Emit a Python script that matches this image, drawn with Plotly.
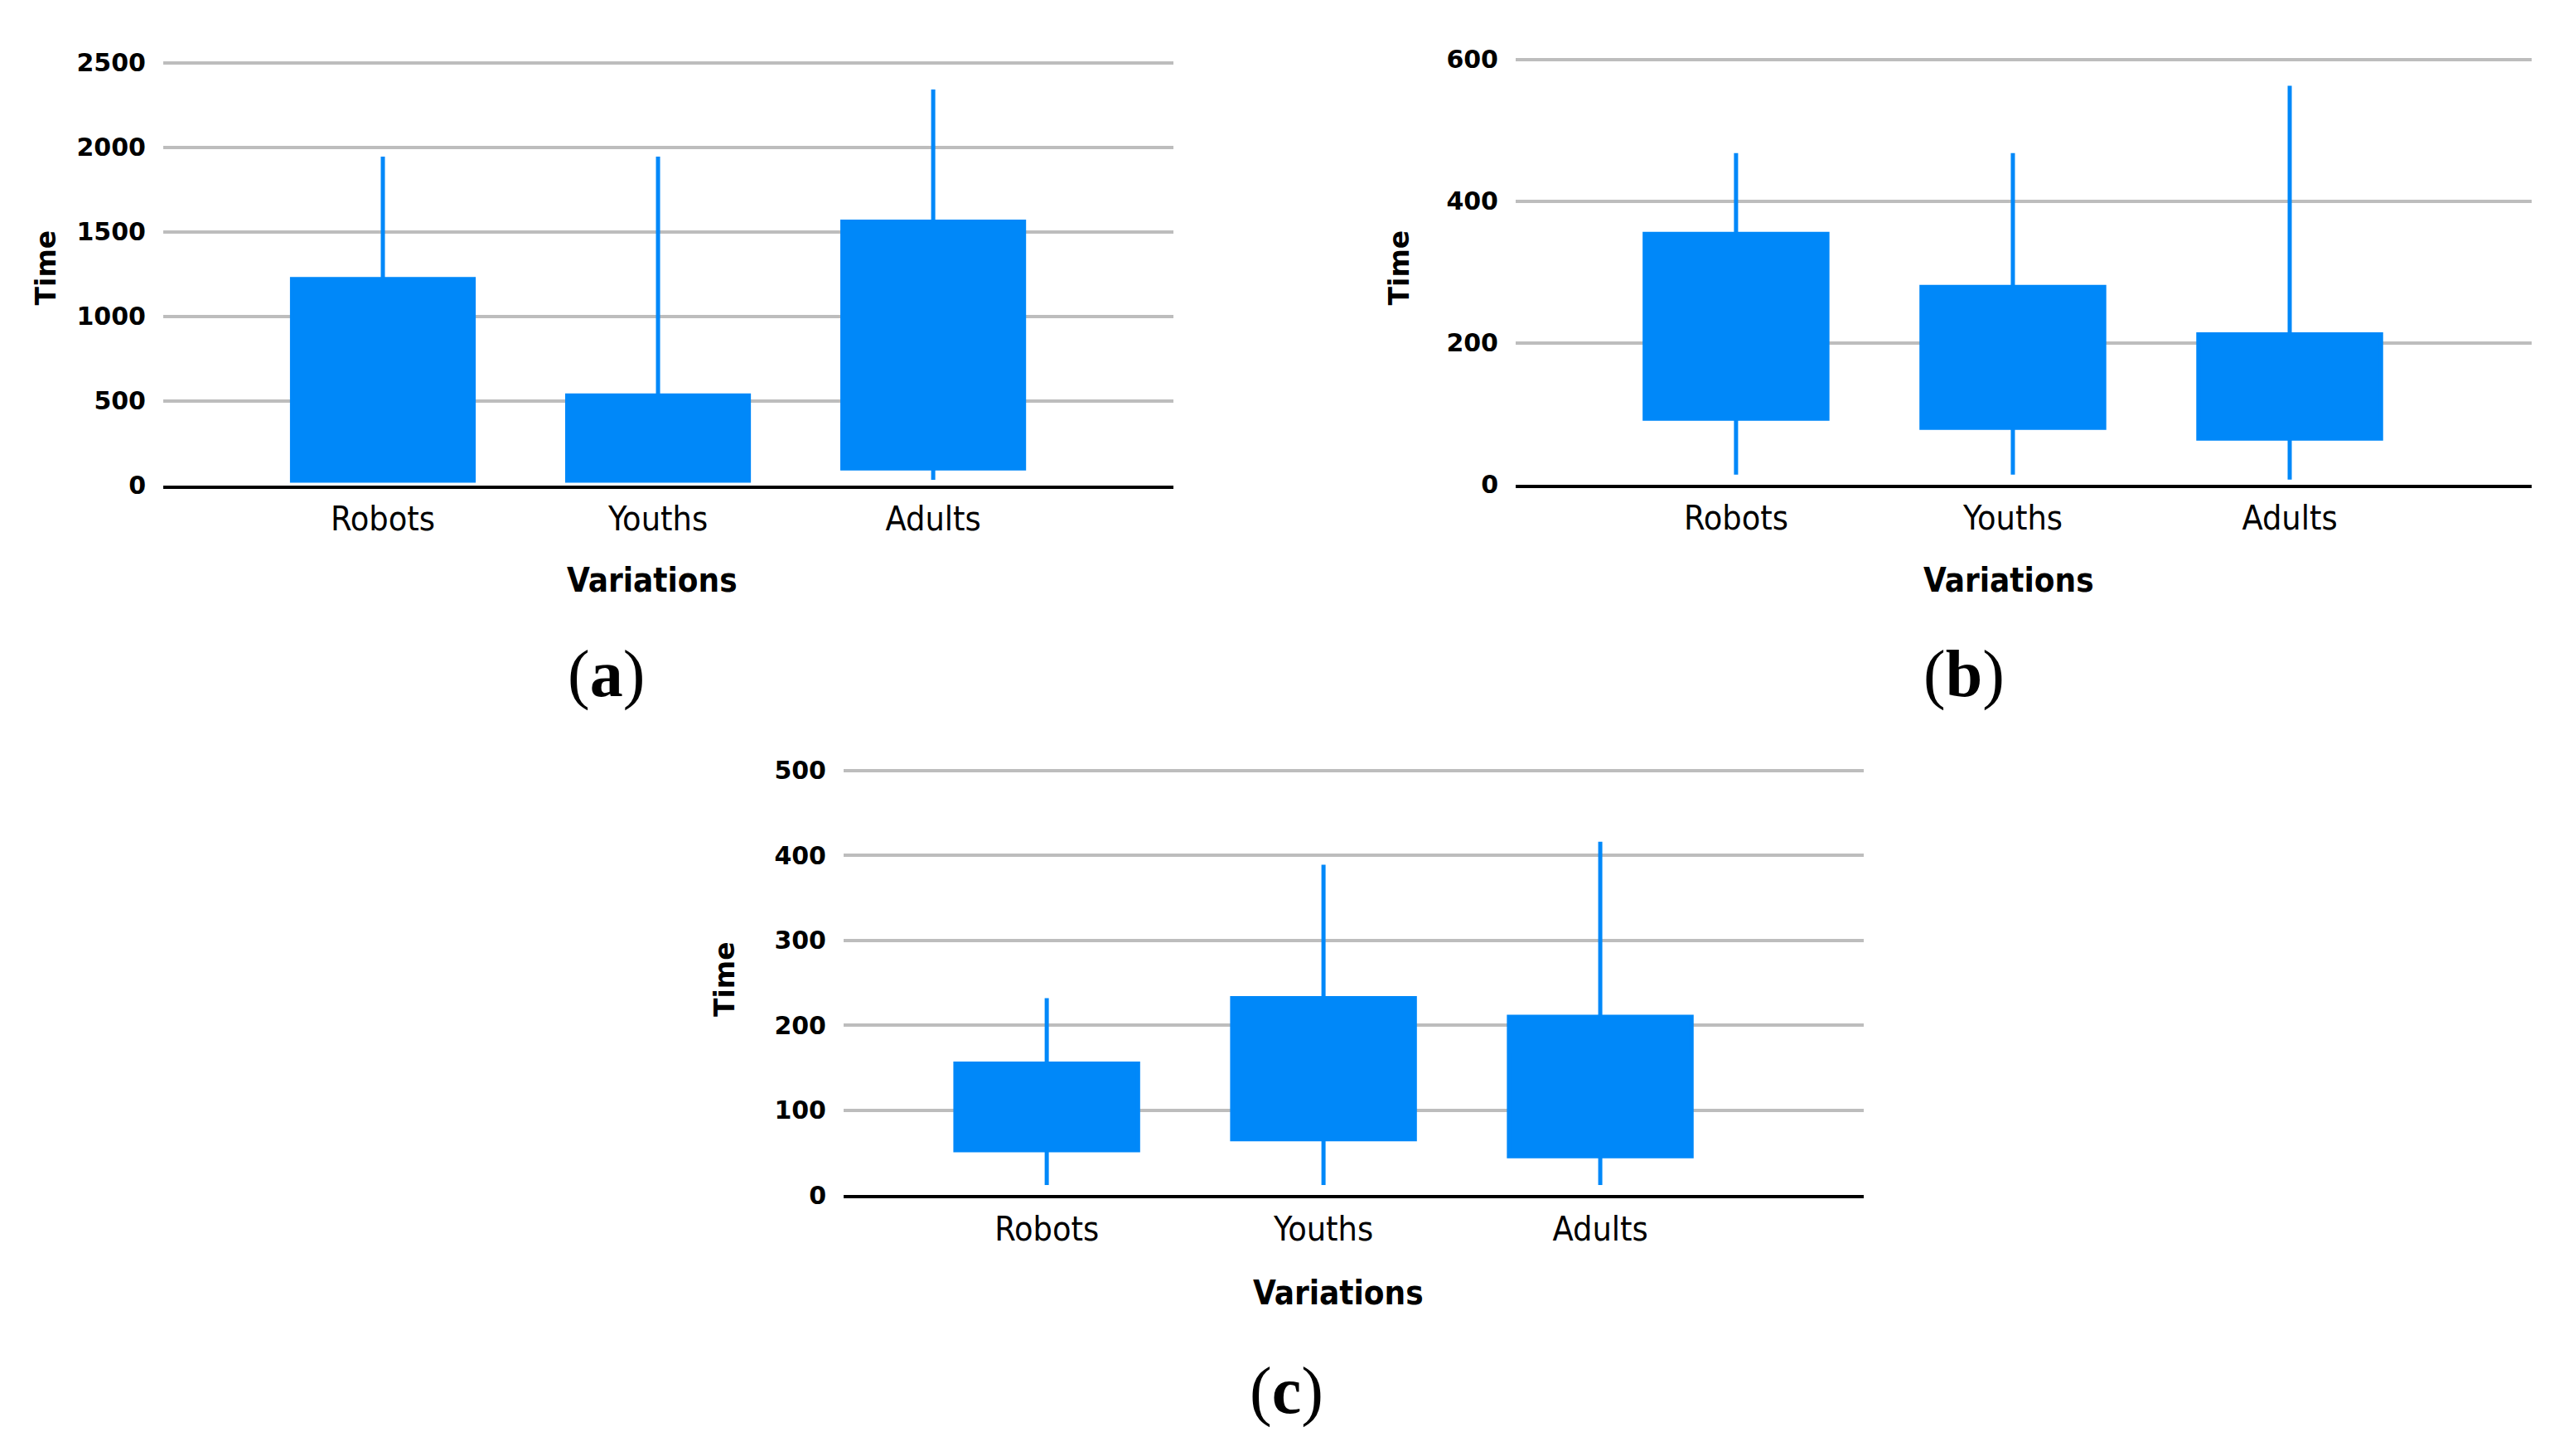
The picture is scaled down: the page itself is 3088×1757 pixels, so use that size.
import plotly.graph_objects as go

categories = ["Robots", "Youths", "Adults"]

# Panel (a)
a_low = [28, 28, 33]
a_q1 = [28, 28, 100]
a_q3 = [1221, 532, 1561]
a_high = [1945, 1945, 2342]
a_ticks = [0, 500, 1000, 1500, 2000, 2500]

# Panel (b)
b_low = [14, 14, 7]
b_q1 = [93, 80, 65]
b_q3 = [354, 279, 212]
b_high = [468, 468, 563]
b_ticks = [0, 200, 400, 600]

# Panel (c)
c_low = [12, 12, 12]
c_q1 = [53, 66, 46]
c_q3 = [155, 232, 210]
c_high = [232, 389, 416]
c_ticks = [0, 100, 200, 300, 400, 500]

W, H = 3088, 1757
BLUE = "#0088f9"
GRID = "#bdbdbd"
EPS = 0.006

panels = [
    dict(low=a_low, q1=a_q1, q3=a_q3, high=a_high, ticks=a_ticks,
         xd=(197, 1416), yd=(63, 582), xr=(-0.798, 2.873),
         lab="(<b>a</b>)", labpos=(731, 814), varpos=(787, 698), timepos=(55, 315)),
    dict(low=b_low, q1=b_q1, q3=b_q3, high=b_high, ticks=b_ticks,
         xd=(1829, 3055), yd=(59, 581), xr=(-0.796, 2.874),
         lab="(<b>b</b>)", labpos=(2370, 814), varpos=(2424, 698), timepos=(1688, 315)),
    dict(low=c_low, q1=c_q1, q3=c_q3, high=c_high, ticks=c_ticks,
         xd=(1018, 2249), yd=(932, 1454), xr=(-0.734, 2.952),
         lab="(<b>c</b>)", labpos=(1552, 1694), varpos=(1615, 1574), timepos=(874, 1189)),
]

fig = go.Figure()
annotations = []
layout_axes = {}
for i, p in enumerate(panels):
    n = i + 1
    xa = "x" if n == 1 else f"x{n}"
    ya = "y" if n == 1 else f"y{n}"
    fig.add_trace(go.Box(
        x=[0, 1, 2],
        q1=p["q1"], median=p["q1"], q3=p["q3"],
        lowerfence=p["low"], upperfence=p["high"],
        width=0.66, whiskerwidth=0,
        fillcolor=BLUE, line=dict(color=BLUE, width=5),
        boxpoints=False, hoverinfo="skip", showlegend=False,
        xaxis=xa, yaxis=ya,
    ))
    xkey = "xaxis" if n == 1 else f"xaxis{n}"
    ykey = "yaxis" if n == 1 else f"yaxis{n}"
    layout_axes[xkey] = dict(
        domain=[p["xd"][0] / W, p["xd"][1] / W],
        range=list(p["xr"]), anchor=ya,
        tickvals=[0, 1, 2], ticktext=categories,
        showgrid=False, zeroline=False,
        showline=True, linecolor="black", linewidth=4,
        ticks="", ticklen=0, ticklabelstandoff=1,
        tickfont=dict(family="DejaVu Sans Condensed, Roboto", size=41, color="black"),
        fixedrange=True,
    )
    ymax = p["ticks"][-1]
    top_px, bot_px = p["yd"]
    top_ext = top_px - EPS * (bot_px - top_px)
    layout_axes[ykey] = dict(
        domain=[1 - bot_px / H, 1 - top_ext / H],
        range=[0, ymax * (1 + EPS)], anchor=xa,
        tickvals=p["ticks"], ticktext=[str(t) for t in p["ticks"]],
        showgrid=True, gridcolor=GRID, gridwidth=4,
        zeroline=False, showline=False, ticks="", ticklabelstandoff=20,
        tickfont=dict(family="DejaVu Sans", size=30, color="black", weight="bold"),
        fixedrange=True,
    )
    annotations.append(dict(
        text="Variations", x=p["varpos"][0] / W, y=1 - p["varpos"][1] / H,
        xref="paper", yref="paper", showarrow=False, xanchor="center", yanchor="middle",
        font=dict(family="DejaVu Sans Condensed, Roboto", size=40, color="black", weight="bold"),
    ))
    annotations.append(dict(
        text="Time", x=p["timepos"][0] / W, y=1 - p["timepos"][1] / H,
        xref="paper", yref="paper", showarrow=False, xanchor="center", yanchor="middle",
        textangle=-90,
        font=dict(family="DejaVu Sans", size=33, color="black", weight="bold"),
    ))
    annotations.append(dict(
        text=p["lab"], x=p["labpos"][0] / W, y=1 - p["labpos"][1] / H,
        xref="paper", yref="paper", showarrow=False, xanchor="center", yanchor="middle",
        font=dict(family="Liberation Serif, Times New Roman, serif", size=80, color="black"),
    ))

fig.update_layout(
    width=W, height=H,
    margin=dict(l=0, r=0, t=0, b=0),
    paper_bgcolor="white", plot_bgcolor="white",
    annotations=annotations,
    **layout_axes,
)

fig.write_html("out.html", config={"displayModeBar": False},
               post_script="document.body.style.margin='0';")
